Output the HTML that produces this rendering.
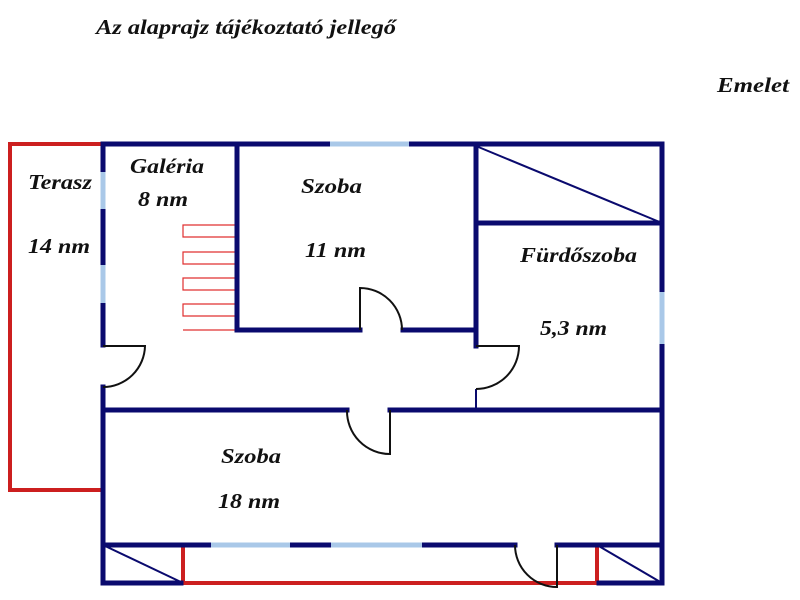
<!DOCTYPE html>
<html><head><meta charset="utf-8"><style>
html,body{margin:0;padding:0;background:#fff;}
svg{display:block;}
text{font-family:"Liberation Serif",serif;font-weight:bold;font-style:italic;fill:#111;}
</style></head><body>
<svg width="800" height="600" viewBox="0 0 800 600" xmlns="http://www.w3.org/2000/svg">
<rect width="800" height="600" fill="#fff"/>
<text x="96" y="34" font-size="21" textLength="300" lengthAdjust="spacingAndGlyphs">Az alaprajz tájékoztató jellegő</text>
<text x="717" y="92" font-size="21" textLength="72" lengthAdjust="spacingAndGlyphs">Emelet</text>

<g stroke="#cc1f1f" stroke-width="4" fill="none">
<polyline points="103,144 10,144 10,490 103,490"/>
<line x1="183" y1="545" x2="183" y2="583"/>
<line x1="597" y1="545" x2="597" y2="583"/>
<line x1="183" y1="583" x2="597" y2="583"/>
</g>
<g stroke="#e03030" stroke-width="1.2" fill="none">
<polyline points="235,225 183,225 183,237 235,237"/>
<polyline points="235,252 183,252 183,264 235,264"/>
<polyline points="235,278 183,278 183,290 235,290"/>
<polyline points="235,304 183,304 183,316 235,316"/>
<line x1="183" y1="330" x2="235" y2="330"/>
</g>

<g stroke="#0a0a6e" stroke-width="5" fill="none" stroke-linecap="square">
<line x1="103" y1="144" x2="662" y2="144"/>
<line x1="662" y1="144" x2="662" y2="583"/>
<line x1="103" y1="144" x2="103" y2="345"/>
<line x1="103" y1="387" x2="103" y2="583"/>
<line x1="103" y1="583" x2="181" y2="583"/>
<line x1="599" y1="583" x2="662" y2="583"/>
<line x1="237" y1="144" x2="237" y2="330"/>
<line x1="237" y1="330" x2="360" y2="330"/>
<line x1="403" y1="330" x2="476" y2="330"/>
<line x1="476" y1="144" x2="476" y2="346"/>
<line x1="476" y1="223" x2="662" y2="223"/>
<line x1="103" y1="410" x2="347" y2="410"/>
<line x1="390" y1="410" x2="662" y2="410"/>
<line x1="103" y1="545" x2="515" y2="545"/>
<line x1="557" y1="545" x2="662" y2="545"/>
</g>
<g stroke="#0a0a6e" stroke-width="2" fill="none">
<line x1="476" y1="146" x2="662" y2="223"/>
<line x1="103" y1="545" x2="183" y2="583"/>
<line x1="597" y1="545" x2="662" y2="583"/>
<line x1="476" y1="389" x2="476" y2="410"/>
</g>
<g stroke="#a9c8e8" stroke-width="5" fill="none">
<line x1="103" y1="172" x2="103" y2="209"/>
<line x1="103" y1="265" x2="103" y2="303"/>
<line x1="330" y1="144" x2="409" y2="144"/>
<line x1="662" y1="292" x2="662" y2="344"/>
<line x1="211" y1="545" x2="290" y2="545"/>
<line x1="331" y1="545" x2="422" y2="545"/>
</g>
<g stroke="#111" stroke-width="2" fill="none">
<path d="M103,346 L145,346 A42,42 0 0 1 103,387"/>
<path d="M360,330 L360,288 A42,42 0 0 1 402,330"/>
<path d="M476,346 L519,346 A43,43 0 0 1 476,389"/>
<path d="M390,410 L390,454 A43,43 0 0 1 347,410"/>
<path d="M515,545 A42,42 0 0 0 557,587 L557,545"/>
</g>

<g font-size="21">
<text x="28" y="189" textLength="64" lengthAdjust="spacingAndGlyphs">Terasz</text>
<text x="28" y="253" textLength="62" lengthAdjust="spacingAndGlyphs">14 nm</text>
<text x="130" y="173" textLength="74" lengthAdjust="spacingAndGlyphs">Galéria</text>
<text x="138" y="206" textLength="50" lengthAdjust="spacingAndGlyphs">8 nm</text>
<text x="301" y="193" textLength="61" lengthAdjust="spacingAndGlyphs">Szoba</text>
<text x="305" y="257" textLength="61" lengthAdjust="spacingAndGlyphs">11 nm</text>
<text x="520" y="262" textLength="117" lengthAdjust="spacingAndGlyphs">Fürdőszoba</text>
<text x="540" y="335" textLength="67" lengthAdjust="spacingAndGlyphs">5,3 nm</text>
<text x="221" y="463" textLength="60" lengthAdjust="spacingAndGlyphs">Szoba</text>
<text x="218" y="508" textLength="62" lengthAdjust="spacingAndGlyphs">18 nm</text>
</g>
</svg>
</body></html>
